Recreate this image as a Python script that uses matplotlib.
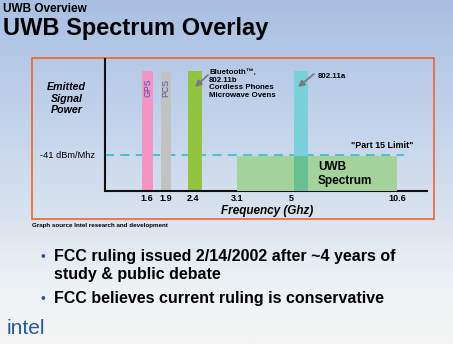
import numpy as np
import matplotlib
matplotlib.use("Agg")
import matplotlib.pyplot as plt
from matplotlib.colors import to_rgb
from matplotlib.patches import Rectangle

plt.rcParams['font.family'] = ['Liberation Sans', 'DejaVu Sans']

# ---- data ----
band_names = ["GPS", "PCS", "Bluetooth/802.11b", "802.11a"]
band_lo = [1.53, 1.83, 2.30, 5.12]          # GHz
band_hi = [1.70, 1.99, 2.54, 5.85]          # GHz
band_power = [91, 90, 91, 91]               # relative emitted power
uwb_lo, uwb_hi = 3.1, 10.6                  # GHz
uwb_power = 26.7
part15_limit = 27.3                         # -41 dBm/MHz
freq_ticks = [1.6, 1.9, 2.4, 3.1, 5, 10.6]
freq_tick_labels = ["1.6", "1.9", "2.4", "3.1", "5", "10.6"]

# piecewise frequency axis (not to scale, as on the slide)
SCALE_FREQ = [0.94, 1.6, 1.9, 2.4, 3.1, 5.0, 10.6, 12.17]
SCALE_POS = [0, 41.7, 60.7, 88.3, 131.7, 186.7, 292.3, 322]

W, H = 453, 344
fig = plt.figure(figsize=(W / 100, H / 100), dpi=100)

# ---- slide background, pixel coordinates ----
bg = fig.add_axes([0, 0, 1, 1])
bg.set_xlim(0, W)
bg.set_ylim(H, 0)
bg.axis("off")
stops_y = [0, 60, 150, 230, 290, 344]
stops_c = ["#a9bfe2", "#b6c9e7", "#c9d8ec", "#dde6f0", "#eef2f4", "#f5f6f4"]
rows = np.arange(H)
grad = np.stack([np.interp(rows, stops_y, [to_rgb(c)[k] for c in stops_c])
                 for k in range(3)], axis=-1)[:, None, :]
grad = np.repeat(grad, 2, axis=1)
bg.imshow(grad, extent=(0, W, H, 0), aspect="auto", interpolation="bilinear")

# titles
bg.text(3, 9, "UWB Overview", fontsize=8.5, fontweight="bold", va="center")
bg.text(3, 29, "UWB Spectrum Overlay", fontsize=17, fontweight="bold", va="center")

# chart frame
bg.add_patch(Rectangle((31.5, 57.5), 402.5, 161.5, fill=False,
                       edgecolor="#f06428", linewidth=1.2))

# ---- spectrum chart ----
ax = fig.add_axes([105 / W, (H - 191) / H, 322 / W, 132 / H])
ax.patch.set_alpha(0)
ax.set_xscale("function",
              functions=(lambda f: np.interp(f, SCALE_FREQ, SCALE_POS),
                         lambda u: np.interp(u, SCALE_POS, SCALE_FREQ)))
ax.set_xlim(SCALE_FREQ[0], SCALE_FREQ[-1])
ax.set_ylim(0, 100)

band_colors = ["#f294c4", "#c2c2c2", "#93c43f", "#79d2da"]
widths = [h - l for l, h in zip(band_lo, band_hi)]
ax.bar(band_lo, band_power, width=widths, align="edge", color=band_colors,
       zorder=2)

ax.axhline(part15_limit, xmax=0.93, color="#3fbfca", linewidth=1.3,
           dashes=(5, 3.5), zorder=1)

ax.bar(uwb_lo, uwb_power, width=uwb_hi - uwb_lo, align="edge",
       color="#a3d39a", zorder=3)
ov_lo = max(uwb_lo, band_lo[3])
ov_hi = min(uwb_hi, band_hi[3])
ax.bar(ov_lo, uwb_power, width=ov_hi - ov_lo, align="edge",
       color="#66c091", zorder=4)

for name, lo, hi in zip(band_names[:2], band_lo[:2], band_hi[:2]):
    mid = np.interp((np.interp(lo, SCALE_FREQ, SCALE_POS) +
                     np.interp(hi, SCALE_FREQ, SCALE_POS)) / 2,
                    SCALE_POS, SCALE_FREQ)
    ax.text(mid, 78.4, name, rotation=90, ha="center", va="center",
            fontsize=6.3, color="#4a55a8", zorder=5)

for side in ("top", "right"):
    ax.spines[side].set_visible(False)
for side in ("left", "bottom"):
    ax.spines[side].set_linewidth(1.5)
    ax.spines[side].set_color("#111111")
ax.set_yticks([])
ax.set_xticks(freq_ticks)
ax.set_xticklabels(freq_tick_labels, fontsize=6.5, fontweight="bold")
ax.tick_params(axis="x", length=0, pad=2.5)

# ---- captions and annotations drawn above the chart ----
top = fig.add_axes([0, 0, 1, 1])
top.set_xlim(0, W)
top.set_ylim(H, 0)
top.axis("off")
top.patch.set_alpha(0)

top.text(381.7, 146, '"Part 15 Limit"', ha="center", va="center",
         fontsize=6.4, fontweight="bold")
top.text(318, 174, "UWB\nSpectrum", ha="left", va="center",
         fontsize=8.5, fontweight="bold", linespacing=1.2)
top.text(66.5, 98.5, "Emitted\nSignal\nPower", ha="center", va="center",
         fontsize=7.7, fontweight="bold", style="italic", linespacing=1.15)
top.text(95, 155, "-41 dBm/Mhz", ha="right", va="center", fontsize=6.7)
top.text(266.7, 211, "Frequency (Ghz)", ha="center", va="center",
         fontsize=8.5, fontweight="bold", style="italic")
top.text(209, 84, "Bluetooth\u2122,\n802.11b\nCordless Phones\nMicrowave Ovens",
         ha="left", va="center", fontsize=5.7, fontweight="bold", linespacing=1.1)
top.text(318, 76, "802.11a", ha="left", va="center", fontsize=5.7,
         fontweight="bold")
arrow = dict(arrowstyle="-|>", color="#7a7a7a", lw=1.3, mutation_scale=9,
             shrinkA=0, shrinkB=0)
top.annotate("", xy=(195, 87), xytext=(208, 75), arrowprops=arrow)
top.annotate("", xy=(298, 87), xytext=(314, 74), arrowprops=arrow)

top.text(32, 226, "Graph source Intel research and development",
         ha="left", va="center", fontsize=4.5, fontweight="bold")

# ---- bullets ----
for y in (256.7, 299):
    top.text(42.7, y, "\u2022", ha="center", va="center", fontsize=10,
             color="#2d4f9e")
top.text(54.3, 256.7, "FCC ruling issued 2/14/2002 after ~4 years of",
         ha="left", va="center", fontsize=11.5, fontweight="bold")
top.text(54.3, 275, "study & public debate", ha="left", va="center",
         fontsize=11.5, fontweight="bold")
top.text(54.3, 299, "FCC believes current ruling is conservative",
         ha="left", va="center", fontsize=11.5, fontweight="bold")

# ---- logo ----
top.text(7, 334, "intel", fontsize=15, color="#2358a8", va="baseline",
         ha="left")

fig.savefig("out.png", dpi=100)
